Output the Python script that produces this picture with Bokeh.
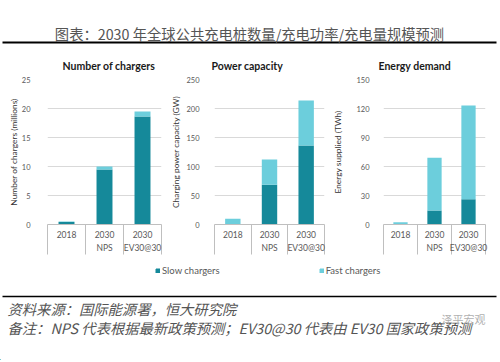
from bokeh.plotting import figure
from bokeh.layouts import column, row
from bokeh.models import (Range1d, FixedTicker, Label, Legend, LegendItem, ColumnDataSource)
from bokeh.embed import file_html
from bokeh.resources import INLINE

# ---------------- data ----------------
categories = ["2018", "2030\nNPS", "2030\nEV30@30"]
series = ["Slow chargers", "Fast chargers"]

chargers_slow = [0.45, 9.5, 18.6]
chargers_fast = [0.05, 0.5, 0.9]
power_slow = [1.0, 68.5, 136.0]
power_fast = [9.0, 43.5, 78.0]
energy_slow = [0.3, 14.5, 26.0]
energy_fast = [2.0, 54.5, 97.0]

chargers_ticks = [0, 5, 10, 15, 20, 25]
power_ticks = [0, 50, 100, 150, 200, 250]
energy_ticks = [0, 30, 60, 90, 120, 150]

main_title = "图表：2030 年全球公共充电桩数量/充电功率/充电量规模预测"
source_note = "资料来源：国际能源署，恒大研究院"
remark_note = "备注：NPS 代表根据最新政策预测；EV30@30 代表由 EV30 国家政策预测"
mark_text = "泽平宏观"

SLOW = "#15899a"
FAST = "#6ccedc"
TXT = "#595959"
FONT = "Lato"
CJK = "Noto Sans CJK SC"


def make_chart(title, ylabel, slow, fast, ticks, width, left, right,
               title_offset, tick_standoff, label_standoff):
    x = list(range(len(categories)))
    src = ColumnDataSource(dict(x=x, slow=slow, fast=fast))
    p = figure(width=width, height=212, title=title,
               x_range=Range1d(-0.5, len(categories) - 0.5),
               y_range=Range1d(ticks[0], ticks[-1]),
               toolbar_location=None, output_backend="svg",
               min_border_left=left, min_border_right=right,
               min_border_top=28, min_border_bottom=38)
    p.vbar_stack(["slow", "fast"], x="x", width=0.42, source=src,
                 color=[SLOW, FAST], line_width=0)
    p.outline_line_color = None
    p.title.align = "left"
    p.title.offset = title_offset
    p.title.text_font = FONT
    p.title.text_font_size = "10.5px"
    p.title.text_font_style = "bold"
    p.title.text_color = "#1a1a1a"
    p.title.standoff = 15

    xa = p.xaxis[0]
    xa.ticker = FixedTicker(ticks=x, minor_ticks=[i - 0.5 for i in range(len(categories) + 1)])
    xa.major_label_overrides = {i: c for i, c in enumerate(categories)}
    xa.major_tick_out = 0
    xa.major_tick_in = 0
    xa.major_tick_line_color = None
    xa.minor_tick_out = 30
    xa.minor_tick_in = 0
    xa.minor_tick_line_color = "#bfbfbf"
    xa.axis_line_color = "#bfbfbf"
    xa.major_label_standoff = -25
    xa.major_label_text_font = FONT
    xa.major_label_text_font_size = "8.5px"
    xa.major_label_text_color = TXT
    xa.major_label_text_line_height = 1.35

    ya = p.yaxis[0]
    ya.ticker = FixedTicker(ticks=ticks)
    ya.axis_line_color = None
    ya.major_tick_line_color = None
    ya.minor_tick_line_color = None
    ya.major_label_standoff = tick_standoff
    ya.major_label_text_font = FONT
    ya.major_label_text_font_size = "7.5px"
    ya.major_label_text_color = TXT
    ya.axis_label = ylabel
    ya.axis_label_text_font = FONT
    ya.axis_label_text_font_size = "8.4px"
    ya.axis_label_text_font_style = "normal"
    ya.axis_label_text_color = "#333333"
    ya.axis_label_standoff = label_standoff

    p.xgrid.visible = False
    p.ygrid.grid_line_color = "#d9d9d9"
    return p


p1 = make_chart("Number of chargers", "Number of chargers (millions)",
                chargers_slow, chargers_fast, chargers_ticks, 168, 47, 7, 15, 11, 0)
p2 = make_chart("Power capacity", "Charging power capacity (GW)",
                power_slow, power_fast, power_ticks, 162, 42, 6, -3, 9, 2)
p3 = make_chart("Energy demand", "Energy supplied (TWh)",
                energy_slow, energy_fast, energy_ticks, 170, 40, 15, -5, 8, 10)

# ---------------- header ----------------
W = 500
HH = 50
h = figure(width=W, height=HH, x_range=Range1d(0, W), y_range=Range1d(0, HH),
           toolbar_location=None, output_backend="svg", min_border=0,
           x_axis_location=None, y_axis_location=None)
h.grid.visible = False
h.outline_line_color = None
h.add_layout(Label(x=249, y=HH - 33, x_units="screen", y_units="screen", text=main_title,
                   text_align="center", text_baseline="middle", text_font=CJK,
                   text_font_size="14.3px", text_color="#555555"))
h.line(x=[2, 496], y=[HH - 42, HH - 42], line_color="black", line_width=2)

# ---------------- footer ----------------
FH = 98
f = figure(width=W, height=FH, x_range=Range1d(0, W), y_range=Range1d(0, FH),
           toolbar_location=None, output_backend="svg", min_border=0,
           x_axis_location=None, y_axis_location=None)
f.grid.visible = False
f.outline_line_color = None
r_slow = f.vbar(x=[-100], top=[1], width=1, color=SLOW)
r_fast = f.vbar(x=[-100], top=[1], width=1, color=FAST)
leg = Legend(items=[LegendItem(label=series[0], renderers=[r_slow]),
                    LegendItem(label=series[1], renderers=[r_fast])],
             orientation="horizontal", location=(155, FH - 14), spacing=99,
             glyph_width=5, glyph_height=5, label_standoff=2, label_height=12,
             padding=0, margin=0, border_line_color=None, background_fill_alpha=0,
             label_text_font=FONT, label_text_font_size="9.5px", label_text_color=TXT)
f.add_layout(leg)
f.line(x=[2, 496], y=[FH - 34, FH - 34], line_color="black", line_width=1.5)
f.add_layout(Label(x=7, y=FH - 46, x_units="screen", y_units="screen", text=source_note,
                   text_align="left", text_baseline="middle", text_font=CJK,
                   text_font_size="14.3px", text_font_style="italic", text_color="#555555"))
f.add_layout(Label(x=7, y=FH - 65, x_units="screen", y_units="screen", text=remark_note,
                   text_align="left", text_baseline="middle", text_font=CJK,
                   text_font_size="14.3px", text_font_style="italic", text_color="#555555"))
f.add_layout(Label(x=485, y=FH - 56, x_units="screen", y_units="screen", text=mark_text,
                   text_align="right", text_baseline="middle", text_font=CJK,
                   text_font_size="11px", text_color="#b0b0b0"))

layout = column(h, row(p1, p2, p3), f)
open("out.html", "w").write(file_html(layout, INLINE))
